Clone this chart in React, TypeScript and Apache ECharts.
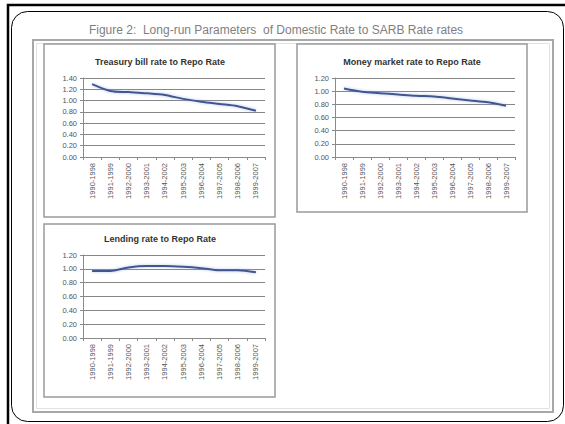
import React, { useEffect, useRef } from "react";
import * as echarts from "echarts";

const periods = [
  "1990-1998", "1991-1999", "1992-2000", "1993-2001", "1994-2002",
  "1995-2003", "1996-2004", "1997-2005", "1998-2006", "1999-2007",
];
const treasuryBill = [1.29, 1.17, 1.15, 1.13, 1.1, 1.03, 0.98, 0.94, 0.9, 0.82];
const moneyMarket = [1.04, 0.99, 0.97, 0.95, 0.93, 0.92, 0.89, 0.86, 0.83, 0.78];
const lending = [0.97, 0.97, 1.02, 1.04, 1.04, 1.03, 1.01, 0.98, 0.98, 0.95];

const figureTitle = "Figure 2:  Long-run Parameters  of Domestic Rate to SARB Rate rates";
const chartTitles = [
  "Treasury bill rate to Repo Rate",
  "Money market rate to Repo Rate",
  "Lending rate to Repo Rate",
];
const yMax = [1.4, 1.2, 1.2];

export default function App() {
  const ref = useRef<HTMLDivElement>(null);
  useEffect(() => {
    if (!ref.current) return;
    const chart = echarts.init(ref.current, null, { renderer: "svg" });
    const grids = [
      { left: 83, top: 78, width: 182, height: 79 },
      { left: 335, top: 78, width: 180, height: 79 },
      { left: 83, top: 255, width: 182, height: 83 },
    ];
    const boxes = [
      { x: 44, y: 44, w: 231, h: 173 },
      { x: 297, y: 44, w: 230, h: 168 },
      { x: 44, y: 224, w: 231, h: 173 },
    ];
    const titleCenters = [
      { x: 160, y: 57 },
      { x: 412, y: 57 },
      { x: 160, y: 234 },
    ];
    const seriesData = [treasuryBill, moneyMarket, lending];
    const font = "Liberation Sans, Arial, sans-serif";

    chart.setOption({
      animation: false,
      backgroundColor: "#ffffff",
      title: chartTitles.map((t, i) => ({
        text: t,
        left: titleCenters[i].x,
        top: titleCenters[i].y,
        textAlign: "center",
        padding: 0,
        textStyle: { fontSize: 9, fontWeight: "bold", color: "#333", fontFamily: font },
      })),
      grid: grids.map((g) => ({ ...g, containLabel: false })),
      xAxis: grids.map((_, i) => ({
        type: "category",
        gridIndex: i,
        data: periods,
        boundaryGap: true,
        axisLine: { lineStyle: { color: "#8a8a8a", width: 1 } },
        axisTick: { show: true, length: 3, lineStyle: { color: "#8a8a8a" } },
        axisLabel: {
          rotate: 90,
          interval: 0,
          fontSize: 7.5,
          margin: 6,
          color: "#555",
          fontFamily: font,
        },
        splitLine: { show: false },
      })),
      yAxis: grids.map((_, i) => ({
        type: "value",
        gridIndex: i,
        min: 0,
        max: yMax[i],
        interval: 0.2,
        axisLine: { show: true, lineStyle: { color: "#8a8a8a", width: 1 } },
        axisTick: { show: true, length: 3, lineStyle: { color: "#8a8a8a" } },
        axisLabel: {
          fontSize: 7.5,
          margin: 6,
          color: "#555",
          fontFamily: font,
          formatter: (v: number) => v.toFixed(2),
        },
        splitLine: { show: true, lineStyle: { color: "#868686", width: 1 } },
      })),
      series: seriesData.map((d, i) => ({
        type: "line",
        xAxisIndex: i,
        yAxisIndex: i,
        data: d,
        smooth: 0.3,
        symbol: "none",
        lineStyle: {
          color: "#42548f",
          width: 2,
          shadowColor: "rgba(140,170,230,0.7)",
          shadowBlur: 3,
        },
      })),
      graphic: [
        {
          type: "rect",
          shape: { x: 8, y: 5, width: 620, height: 500 },
          style: { fill: "none", stroke: "#000", lineWidth: 2.5 },
          silent: true,
        },
        {
          type: "rect",
          shape: { x: 11.5, y: 11.5, width: 552, height: 410, r: 16 },
          style: { fill: "none", stroke: "#000", lineWidth: 1 },
          silent: true,
        },
        {
          type: "rect",
          shape: { x: 33, y: 40, width: 520, height: 372 },
          style: { fill: "none", stroke: "#a8a8a8", lineWidth: 2 },
          silent: true,
        },
        {
          type: "rect",
          shape: { x: 36.5, y: 43.5, width: 513, height: 365 },
          style: { fill: "none", stroke: "#e2e2e2", lineWidth: 1 },
          silent: true,
        },
        ...boxes.map((b) => ({
          type: "rect",
          shape: { x: b.x, y: b.y, width: b.w, height: b.h },
          style: { fill: "none", stroke: "#9a9a9a", lineWidth: 1.5 },
          silent: true,
        })),
        {
          type: "text",
          x: 276,
          y: 30,
          style: {
            text: figureTitle,
            textAlign: "center",
            textVerticalAlign: "middle",
            fontSize: 12,
            fill: "#808080",
            fontFamily: "Liberation Sans Narrow, Liberation Sans, Arial, sans-serif",
          },
          silent: true,
        },
      ],
    });
    return () => chart.dispose();
  }, []);
  return (
    <div
      ref={ref}
      style={{ position: "absolute", left: 0, top: 0, width: 565, height: 424 }}
    />
  );
}
